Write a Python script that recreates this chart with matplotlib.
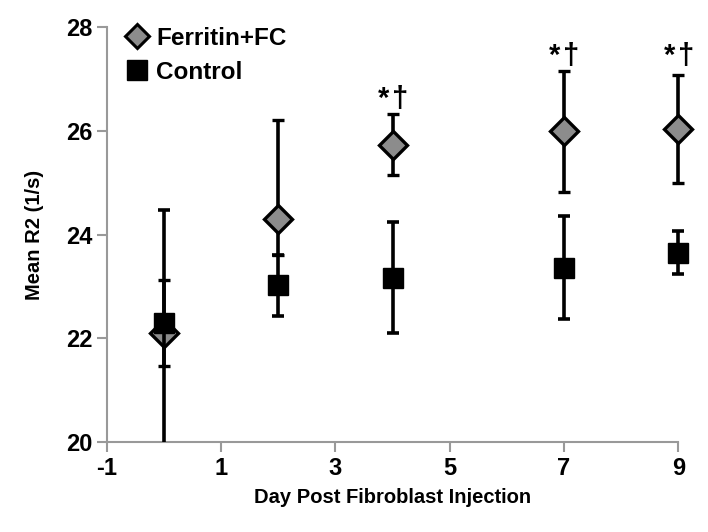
import matplotlib.pyplot as plt
from matplotlib.lines import Line2D
from matplotlib.patches import Rectangle
import numpy as np

plt.rcParams['font.family'] = ['Liberation Sans', 'DejaVu Sans']
plt.rcParams['font.weight'] = 'bold'
plt.rcParams['axes.unicode_minus'] = False

# data
days = [0, 2, 4, 7, 9]
ferritin = [22.1, 24.3, 25.73, 26.0, 26.04]
ferritin_hi = [23.13, 26.2, 26.32, 27.15, 27.08]
ferritin_lo = [21.47, 23.6, 25.15, 24.83, 25.0]
control = [22.3, 23.02, 23.17, 23.35, 23.65]
control_hi = [24.47, 23.6, 24.25, 24.35, 24.06]
control_lo = [19.0, 22.43, 22.1, 22.37, 23.25]
sig_days = [4, 7, 9]
sig_y = [26.34, 27.17, 27.17]

fer = np.array(ferritin)
con = np.array(control)
fer_err = [fer - np.array(ferritin_lo), np.array(ferritin_hi) - fer]
con_err = [con - np.array(control_lo), np.array(control_hi) - con]

fig = plt.figure(figsize=(7.08, 5.32), dpi=100)
ax = fig.add_axes([0.151, 0.169, 0.807, 0.78])

fe = ax.errorbar(days, ferritin, yerr=fer_err, fmt='D', color='black', ecolor='black',
                 elinewidth=2.6, capsize=4, capthick=2.6, markersize=14,
                 markerfacecolor='#8c8c8c', markeredgecolor='black', markeredgewidth=2.4,
                 zorder=3)
ce = ax.errorbar(days, control, yerr=con_err, fmt='s', color='black', ecolor='black',
                 elinewidth=2.6, capsize=4, capthick=2.6, markersize=14,
                 markerfacecolor='black', markeredgecolor='black',
                 zorder=4)
# clip only vertically so the points at x=9 are drawn whole
clip = Rectangle((-0.1, 0), 1.2, 1.2, transform=ax.transAxes, facecolor='none')
for eb in (fe, ce):
    for art in eb.get_children():
        art.set_clip_path(clip)

# significance marks: star left of the bar, dagger right of it
for d, y in zip(sig_days, sig_y):
    ax.text(d - 0.06, y, '*', ha='right', va='bottom', fontsize=21, fontweight='bold')
    ax.text(d - 0.01, y, '\u2020', ha='left', va='bottom', fontsize=21,
            fontweight='bold')

ax.set_xlim(-1, 9)
ax.set_ylim(20, 28)
ax.set_xticks([-1, 1, 3, 5, 7, 9])
ax.set_yticks([20, 22, 24, 26, 28])

for s in ['top', 'right']:
    ax.spines[s].set_visible(False)
for s in ['left', 'bottom']:
    ax.spines[s].set_color('#999999')
    ax.spines[s].set_linewidth(1.5)
ax.tick_params(colors='#999999', labelcolor='black', width=1.5, length=7,
               labelsize=17)

ax.set_xlabel('Day Post Fibroblast Injection', fontsize=14.5, fontweight='bold',
              labelpad=6)
ax.set_ylabel('Mean R2 (1/s)', fontsize=14.5, fontweight='bold', labelpad=16)

handles = [
    Line2D([], [], marker='D', linestyle='none', markersize=12,
           markerfacecolor='#8c8c8c', markeredgecolor='black', markeredgewidth=2.2),
    Line2D([], [], marker='s', linestyle='none', markersize=15,
           markerfacecolor='black', markeredgecolor='black'),
]
ax.legend(handles, ['Ferritin+FC', 'Control'], loc='upper left', frameon=False,
          fontsize=17.5, handletextpad=0.2, handlelength=1.2, borderaxespad=0.1,
          labelspacing=0.45, bbox_to_anchor=(0.005, 1.03))

fig.savefig('out.png', dpi=100)
